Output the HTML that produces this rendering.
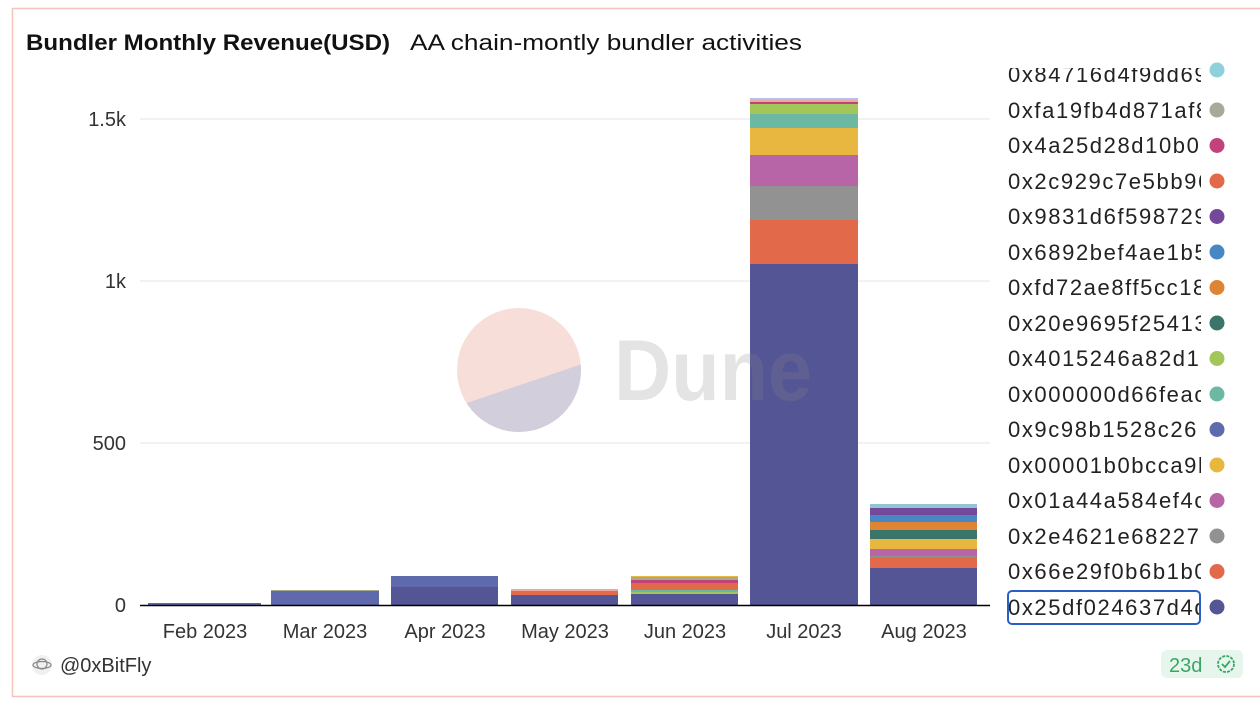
<!DOCTYPE html>
<html><head><meta charset="utf-8"><style>
html,body{margin:0;padding:0;background:#fff;}
svg{display:block;font-family:"Liberation Sans",sans-serif;}
</style></head><body>
<svg width="1260" height="708" viewBox="0 0 1260 708">
<rect x="12.5" y="8.5" width="1250" height="688" fill="#fff" stroke="#f2c4bb" stroke-width="1.5"/>
<text x="26" y="50" font-size="22" font-weight="bold" fill="#111" textLength="364" lengthAdjust="spacingAndGlyphs">Bundler Monthly Revenue(USD)</text>
<text x="410" y="50" font-size="22" fill="#111" textLength="392" lengthAdjust="spacingAndGlyphs">AA chain-montly bundler activities</text>
<g stroke="#eee" stroke-width="1.5">
<line x1="140" y1="119" x2="990" y2="119"/>
<line x1="140" y1="281" x2="990" y2="281"/>
<line x1="140" y1="443" x2="990" y2="443"/>
</g>
<g font-size="20" fill="#333" text-anchor="end">
<text x="126" y="126">1.5k</text>
<text x="126" y="288">1k</text>
<text x="126" y="450">500</text>
<text x="126" y="612">0</text>
</g>
<g>
<rect x="148" y="603" width="113" height="2" fill="#5f6aad"/>
<rect x="271" y="590" width="108" height="1.5" fill="#a9a98f"/>
<rect x="271" y="591" width="108" height="14" fill="#5f6aad"/>
<rect x="391" y="576" width="107" height="11" fill="#5f6aad"/>
<rect x="391" y="587" width="107" height="18" fill="#545594"/>
<rect x="511" y="589" width="107" height="2" fill="#e9a99b"/>
<rect x="511" y="591" width="107" height="4" fill="#e2694a"/>
<rect x="511" y="595" width="107" height="10" fill="#545594"/>
<rect x="631" y="576" width="107" height="1.5" fill="#e8b73f"/>
<rect x="631" y="577" width="107" height="3" fill="#a9a98f"/>
<rect x="631" y="580" width="107" height="3" fill="#c2437c"/>
<rect x="631" y="583" width="107" height="7" fill="#e2694a"/>
<rect x="631" y="590" width="107" height="2" fill="#6db8a2"/>
<rect x="631" y="592" width="107" height="2" fill="#a3c65b"/>
<rect x="631" y="594" width="107" height="11" fill="#545594"/>
<rect x="750" y="98" width="108" height="2" fill="#b7c0ea"/>
<rect x="750" y="100" width="108" height="2" fill="#e9a99b"/>
<rect x="750" y="102" width="108" height="2" fill="#c2437c"/>
<rect x="750" y="104" width="108" height="10" fill="#a3c65b"/>
<rect x="750" y="114" width="108" height="14" fill="#6db8a2"/>
<rect x="750" y="128" width="108" height="27" fill="#e8b73f"/>
<rect x="750" y="155" width="108" height="31" fill="#b865a8"/>
<rect x="750" y="186" width="108" height="34" fill="#929292"/>
<rect x="750" y="220" width="108" height="44" fill="#e2694a"/>
<rect x="750" y="264" width="108" height="341" fill="#545594"/>
<rect x="870" y="504" width="107" height="4" fill="#8fc5d6"/>
<rect x="870" y="508" width="107" height="7" fill="#74499a"/>
<rect x="870" y="515" width="107" height="7" fill="#4987c4"/>
<rect x="870" y="522" width="107" height="8" fill="#dd8534"/>
<rect x="870" y="530" width="107" height="9" fill="#3b7468"/>
<rect x="870" y="539" width="107" height="10" fill="#e8b73f"/>
<rect x="870" y="549" width="107" height="7" fill="#b865a8"/>
<rect x="870" y="556" width="107" height="1.5" fill="#929292"/>
<rect x="870" y="557" width="107" height="11" fill="#e2694a"/>
<rect x="870" y="568" width="107" height="37" fill="#545594"/>
</g>
<line x1="140" y1="605.5" x2="990" y2="605.5" stroke="#000" stroke-width="1.5"/>
<g font-size="20" fill="#333" text-anchor="middle">
<text x="205" y="638">Feb 2023</text>
<text x="325" y="638">Mar 2023</text>
<text x="445" y="638">Apr 2023</text>
<text x="565" y="638">May 2023</text>
<text x="685" y="638">Jun 2023</text>
<text x="804" y="638">Jul 2023</text>
<text x="924" y="638">Aug 2023</text>
</g>
<g>
<clipPath id="cc"><circle cx="519" cy="370" r="62"/></clipPath>
<g clip-path="url(#cc)">
<rect x="450" y="300" width="140" height="140" fill="#f6d3cb" opacity="0.75"/>
<polygon points="440,412 600,358 600,440 440,440" fill="#c9c9dc" opacity="0.8"/>
</g>
<text x="614" y="400" font-size="86" font-weight="bold" fill="#888" opacity="0.22" textLength="198" lengthAdjust="spacingAndGlyphs">Dune</text>
</g>
<clipPath id="lc"><rect x="1000" y="64" width="201" height="580"/></clipPath>
<g font-size="22" fill="#222" clip-path="url(#lc)" letter-spacing="1.6">
<text x="1008" y="82">0x84716d4f9dd69</text>
<text x="1008" y="118">0xfa19fb4d871af8</text>
<text x="1008" y="153">0x4a25d28d10b0</text>
<text x="1008" y="189">0x2c929c7e5bb96</text>
<text x="1008" y="224">0x9831d6f598729</text>
<text x="1008" y="260">0x6892bef4ae1b5</text>
<text x="1008" y="295">0xfd72ae8ff5cc18</text>
<text x="1008" y="331">0x20e9695f25413</text>
<text x="1008" y="366">0x4015246a82d1</text>
<text x="1008" y="402">0x000000d66feac</text>
<text x="1008" y="437">0x9c98b1528c26</text>
<text x="1008" y="473">0x00001b0bcca9b</text>
<text x="1008" y="508">0x01a44a584ef4c</text>
<text x="1008" y="544">0x2e4621e68227</text>
<text x="1008" y="579">0x66e29f0b6b1b0</text>
<text x="1008" y="615">0x25df024637d4d</text>
</g>
<rect x="1000" y="64" width="260" height="4" fill="#fff"/>
<g>
<circle cx="1217" cy="70" r="7.5" fill="#8fd0dc"/>
<circle cx="1217" cy="110" r="7.5" fill="#a8aa98"/>
<circle cx="1217" cy="145.5" r="7.5" fill="#c2437c"/>
<circle cx="1217" cy="181" r="7.5" fill="#e2694a"/>
<circle cx="1217" cy="216.5" r="7.5" fill="#74499a"/>
<circle cx="1217" cy="252" r="7.5" fill="#4987c4"/>
<circle cx="1217" cy="287.5" r="7.5" fill="#dd8534"/>
<circle cx="1217" cy="323" r="7.5" fill="#3b7468"/>
<circle cx="1217" cy="358.5" r="7.5" fill="#a3c65b"/>
<circle cx="1217" cy="394" r="7.5" fill="#6db8a2"/>
<circle cx="1217" cy="429.5" r="7.5" fill="#5f6aad"/>
<circle cx="1217" cy="465" r="7.5" fill="#e8b73f"/>
<circle cx="1217" cy="500.5" r="7.5" fill="#b865a8"/>
<circle cx="1217" cy="536" r="7.5" fill="#929292"/>
<circle cx="1217" cy="571.5" r="7.5" fill="#e2694a"/>
<circle cx="1217" cy="607" r="7.5" fill="#545594"/>
</g>
<rect x="1008" y="591" width="192" height="33" rx="4" fill="none" stroke="#2c5fc4" stroke-width="2"/>
<circle cx="42" cy="665" r="10" fill="#f0f0f0"/>
<ellipse cx="42" cy="665" rx="9" ry="3.5" fill="none" stroke="#888" stroke-width="1.2"/>
<circle cx="42" cy="664" r="5" fill="none" stroke="#888" stroke-width="1.2"/>
<text x="60" y="672" font-size="20" fill="#333">@0xBitFly</text>
<rect x="1161" y="650" width="82" height="28" rx="6" fill="#e6f6ec"/>
<text x="1169" y="672" font-size="20" fill="#3aa565">23d</text>
<circle cx="1226" cy="664" r="8" fill="none" stroke="#3aa565" stroke-width="1.8" stroke-dasharray="3 1.2"/>
<polyline points="1222,664 1225,667 1230,661" fill="none" stroke="#3aa565" stroke-width="1.8"/>
</svg>
</body></html>
